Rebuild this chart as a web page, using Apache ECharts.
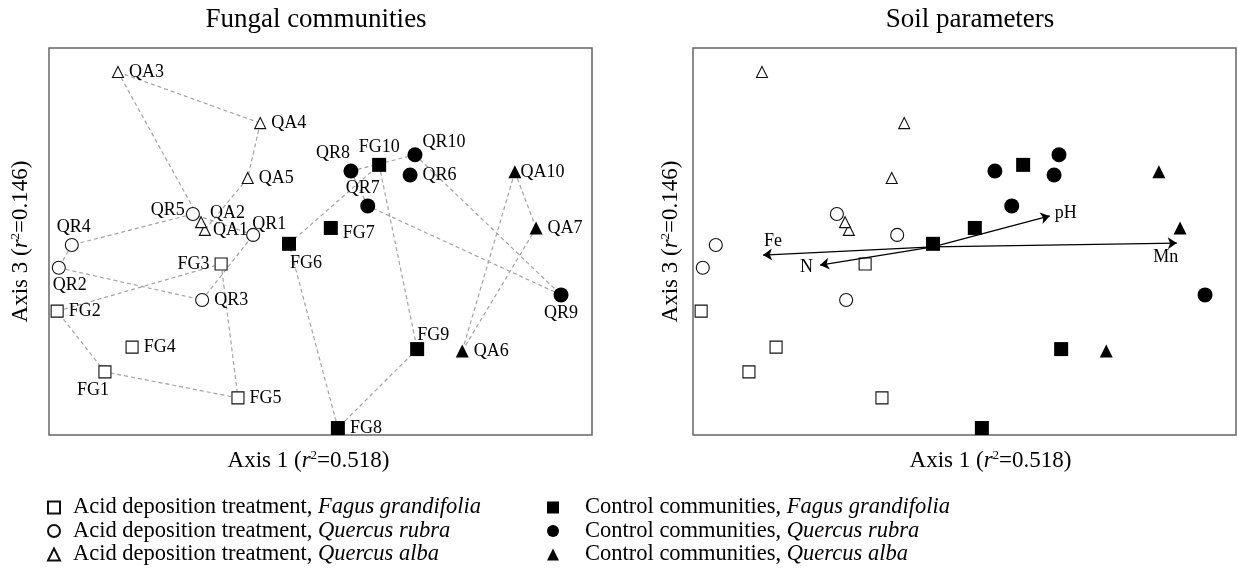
<!DOCTYPE html>
<html>
<head>
<meta charset="utf-8">
<script src="https://cdn.jsdelivr.net/npm/echarts@6/dist/echarts.min.js"></script>
<style>
  html, body { margin: 0; padding: 0; background: #fff; }
  #chart { width: 1238px; height: 573px; }
</style>
</head>
<body>
<div id="chart"></div>
<script>
// Ordination scores (axis 1, axis 3) for each sample group
const fgTreatNames = ['FG1', 'FG2', 'FG3', 'FG4', 'FG5'];
const fgTreatAxis1 = [10.3, 1.5, 31.7, 15.3, 34.8];
const fgTreatAxis3 = [16.3, 32.0, 44.2, 22.7, 9.6];

const qrTreatNames = ['QR1', 'QR2', 'QR3', 'QR4', 'QR5'];
const qrTreatAxis1 = [37.6, 1.8, 28.2, 4.2, 26.5];
const qrTreatAxis3 = [51.7, 43.2, 34.9, 49.1, 57.1];

const qaTreatNames = ['QA1', 'QA2', 'QA3', 'QA4', 'QA5'];
const qaTreatAxis1 = [28.7, 28.0, 12.7, 38.9, 36.6];
const qaTreatAxis3 = [53.0, 55.0, 93.8, 80.6, 66.4];

const fgCtrlNames = ['FG6', 'FG7', 'FG8', 'FG9', 'FG10'];
const fgCtrlAxis1 = [44.2, 51.9, 53.2, 67.8, 60.8];
const fgCtrlAxis3 = [49.4, 53.5, 1.8, 22.2, 69.8];

const qrCtrlNames = ['QR6', 'QR7', 'QR8', 'QR9', 'QR10'];
const qrCtrlAxis1 = [66.5, 58.7, 55.6, 94.3, 67.4];
const qrCtrlAxis3 = [67.2, 59.2, 68.2, 36.2, 72.4];

const qaCtrlNames = ['QA6', 'QA7', 'QA10'];
const qaCtrlAxis1 = [76.1, 89.7, 85.8];
const qaCtrlAxis3 = [21.7, 53.5, 68.0];

// Outline polygons joining the samples of each group
const fgTreatHull = ['FG2', 'FG3', 'FG5', 'FG1'];
const qrTreatHull = ['QR5', 'QR4', 'QR2', 'QR3', 'QR1'];
const qaTreatHull = ['QA3', 'QA4', 'QA5', 'QA1', 'QA2'];
const fgCtrlHull = ['FG6', 'FG10', 'FG9', 'FG8'];
const qrCtrlHull = ['QR8', 'QR10', 'QR9', 'QR7'];
const qaCtrlHull = ['QA10', 'QA7', 'QA6'];

// Soil parameter vectors (biplot)
const soilOrigin = [44.2, 48.6];
const soilVars = ['pH', 'Mn', 'Fe', 'N'];
const soilAxis1 = [65.7, 89.1, 12.9, 23.4];
const soilAxis3 = [56.6, 49.6, 46.5, 43.9];

const groupNames = [
  'Acid deposition treatment, Fagus grandifolia',
  'Acid deposition treatment, Quercus rubra',
  'Acid deposition treatment, Quercus alba',
  'Control communities, Fagus grandifolia',
  'Control communities, Quercus rubra',
  'Control communities, Quercus alba'
];

const FONT = '"Liberation Serif", "Times New Roman", serif';
const INK = '#000';

const groups = [
  { names: fgTreatNames, a1: fgTreatAxis1, a3: fgTreatAxis3, hull: fgTreatHull, symbol: 'rect', size: 12, filled: false },
  { names: qrTreatNames, a1: qrTreatAxis1, a3: qrTreatAxis3, hull: qrTreatHull, symbol: 'circle', size: 13, filled: false },
  { names: qaTreatNames, a1: qaTreatAxis1, a3: qaTreatAxis3, hull: qaTreatHull, symbol: 'triangle', size: 11, filled: false },
  { names: fgCtrlNames, a1: fgCtrlAxis1, a3: fgCtrlAxis3, hull: fgCtrlHull, symbol: 'rect', size: 14, filled: true },
  { names: qrCtrlNames, a1: qrCtrlAxis1, a3: qrCtrlAxis3, hull: qrCtrlHull, symbol: 'circle', size: 15, filled: true },
  { names: qaCtrlNames, a1: qaCtrlAxis1, a3: qaCtrlAxis3, hull: qaCtrlHull, symbol: 'triangle', size: 13, filled: true }
];

// Where each sample label sits around its marker
const labelPlace = {
  QA1: ['right', [-3, 0]], QA2: ['right', [-2, -9]], QA3: ['right', [0, 0]],
  QA4: ['right', [0, 0]], QA5: ['right', [0, 0]],
  QR1: ['right', [-13, -11]], QR2: ['bottom', [11, -4]], QR3: ['right', [0, 0]],
  QR4: ['top', [2, 3]], QR5: ['left', [4, -4]],
  FG1: ['bottom', [-12, -2]], FG2: ['right', [0, 0]], FG3: ['left', [0, 0]],
  FG4: ['right', [0, 0]], FG5: ['right', [0, 0]],
  FG6: ['bottom', [17, -2]], FG7: ['right', [0, 5]], FG8: ['right', [0, 0]],
  FG9: ['top', [16, 7]], FG10: ['top', [0, 3]],
  QR6: ['right', [0, 0]], QR7: ['top', [-5, 4]], QR8: ['top', [-18, 4]],
  QR9: ['bottom', [0, -3]], QR10: ['right', [-5, -13]],
  QA6: ['right', [0, 0]], QA7: ['right', [0, 0]], QA10: ['right', [-6, 0]]
};

const coordOf = {};
groups.forEach(g => g.names.forEach((n, i) => { coordOf[n] = [g.a1[i], g.a3[i]]; }));

const series = [];

// Dashed group outlines (left panel)
const hullLinks = [];
groups.forEach(g => {
  for (let i = 0; i < g.hull.length; i++) {
    const a = g.hull[i], b = g.hull[(i + 1) % g.hull.length];
    hullLinks.push({ coords: [coordOf[a], coordOf[b]] });
  }
});
series.push({
  type: 'lines', coordinateSystem: 'cartesian2d', xAxisIndex: 0, yAxisIndex: 0,
  silent: true, z: 1,
  lineStyle: { color: '#a3a3a3', width: 1.2, type: [4, 3], opacity: 1 },
  data: hullLinks
});

groups.forEach((g, gi) => {
  const itemStyle = g.filled
    ? { color: INK, borderColor: INK, borderWidth: 0, opacity: 1 }
    : { color: '#fff', borderColor: '#111', borderWidth: 1.1, opacity: 1 };
  for (let panel = 0; panel < 2; panel++) {
    series.push({
      type: 'scatter', name: groupNames[gi],
      xAxisIndex: panel, yAxisIndex: panel,
      symbol: g.symbol, symbolSize: g.size, z: 3,
      itemStyle: itemStyle,
      label: panel === 0 ? {
        show: true, formatter: '{b}', color: INK, opacity: 1,
        fontFamily: FONT, fontSize: 18, distance: 5
      } : { show: false },
      emphasis: { disabled: true },
      data: g.names.map((n, i) => {
        const d = { name: n, value: [g.a1[i], g.a3[i]] };
        if (panel === 0) {
          const p = labelPlace[n] || ['right', [0, 0]];
          d.label = { position: p[0], offset: p[1] };
        }
        return d;
      })
    });
  }
});

// Soil vectors (right panel)
series.push({
  type: 'lines', coordinateSystem: 'cartesian2d', xAxisIndex: 1, yAxisIndex: 1,
  silent: true, z: 4,
  symbol: ['none', 'arrow'], symbolSize: 9,
  lineStyle: { color: INK, width: 1.3, opacity: 1 },
  data: soilVars.map((v, i) => ({ coords: [soilOrigin, [soilAxis1[i], soilAxis3[i]]] }))
});
const soilLabelPlace = {
  pH: ['right', [0, -3]], Mn: ['bottom', [-11, 0]],
  Fe: ['top', [10, 0]], N: ['left', [-2, 2]]
};
series.push({
  type: 'scatter', xAxisIndex: 1, yAxisIndex: 1, symbolSize: 0, silent: true, z: 5,
  itemStyle: { opacity: 1 },
  label: { show: true, formatter: '{b}', color: INK, opacity: 1, fontFamily: FONT, fontSize: 18, distance: 5 },
  data: soilVars.map((v, i) => ({
    name: v, value: [soilAxis1[i], soilAxis3[i]],
    label: { position: soilLabelPlace[v][0], offset: soilLabelPlace[v][1] }
  }))
});

const nameRich = {
  a: { fontFamily: FONT, fontSize: 23, color: INK, lineHeight: 24 },
  i: { fontFamily: FONT, fontSize: 23, color: INK, fontStyle: 'italic', lineHeight: 24 },
  s: { fontFamily: FONT, fontSize: 13, color: INK, verticalAlign: 'top', lineHeight: 13 }
};
const axis1Name = '{a|Axis 1 (}{i|r}{s|2}{a|=0.518)}';
const axis3Name = '{a|Axis 3 (}{i|r}{s|2}{a|=0.146)}';

function xAx(idx, pad) {
  return {
    gridIndex: idx, type: 'value', min: 0, max: 100,
    axisLine: { show: false }, axisTick: { show: false }, axisLabel: { show: false },
    splitLine: { show: false },
    name: axis1Name, nameLocation: 'middle', nameGap: 14,
    nameTextStyle: { rich: nameRich, padding: pad }
  };
}
function yAx(idx, gap) {
  return {
    gridIndex: idx, type: 'value', min: 0, max: 100,
    axisLine: { show: false }, axisTick: { show: false }, axisLabel: { show: false },
    splitLine: { show: false },
    name: axis3Name, nameLocation: 'middle', nameGap: gap, nameRotate: 90,
    nameTextStyle: { rich: nameRich }
  };
}

const legendRich = {
  n: { fontFamily: FONT, fontSize: 22.5, color: INK, lineHeight: 22 },
  i: { fontFamily: FONT, fontSize: 22.5, color: INK, fontStyle: 'italic', lineHeight: 22 }
};
function legendFmt(name) {
  const k = name.indexOf(', ');
  return '{n|' + name.slice(0, k + 2) + '}{i|' + name.slice(k + 2) + '}';
}
function legendCol(left, names, textPad) {
  return {
    orient: 'vertical', left: left, top: 496, padding: 0,
    width: 500, height: 76,
    itemWidth: 12, itemHeight: 12, itemGap: 0.5,
    selectedMode: false, data: names, formatter: legendFmt,
    textStyle: { lineHeight: 22, padding: [0, 0, 0, textPad], rich: legendRich }
  };
}

const chart = echarts.init(document.getElementById('chart'), null, { renderer: 'canvas' });
chart.setOption({
  backgroundColor: '#fff',
  animation: false,
  title: [
    { text: 'Fungal communities', left: 311, top: 1, textAlign: 'center',
      textStyle: { fontFamily: FONT, fontSize: 27, fontWeight: 'normal', color: INK } },
    { text: 'Soil parameters', left: 965, top: 1, textAlign: 'center',
      textStyle: { fontFamily: FONT, fontSize: 27, fontWeight: 'normal', color: INK } }
  ],
  grid: [
    { left: 49, top: 48, width: 543, height: 387, show: true, borderColor: '#666', borderWidth: 1.5, backgroundColor: 'transparent' },
    { left: 693, top: 48, width: 543, height: 387, show: true, borderColor: '#666', borderWidth: 1.5, backgroundColor: 'transparent' }
  ],
  xAxis: [xAx(0, [0, 24, 0, 0]), xAx(1, [0, 0, 0, 52])],
  yAxis: [yAx(0, 16), yAx(1, 10)],
  legend: [
    legendCol(47, groupNames.slice(0, 3), 8),
    legendCol(547, groupNames.slice(3), 21)
  ],
  series: series
});
</script>
</body>
</html>
